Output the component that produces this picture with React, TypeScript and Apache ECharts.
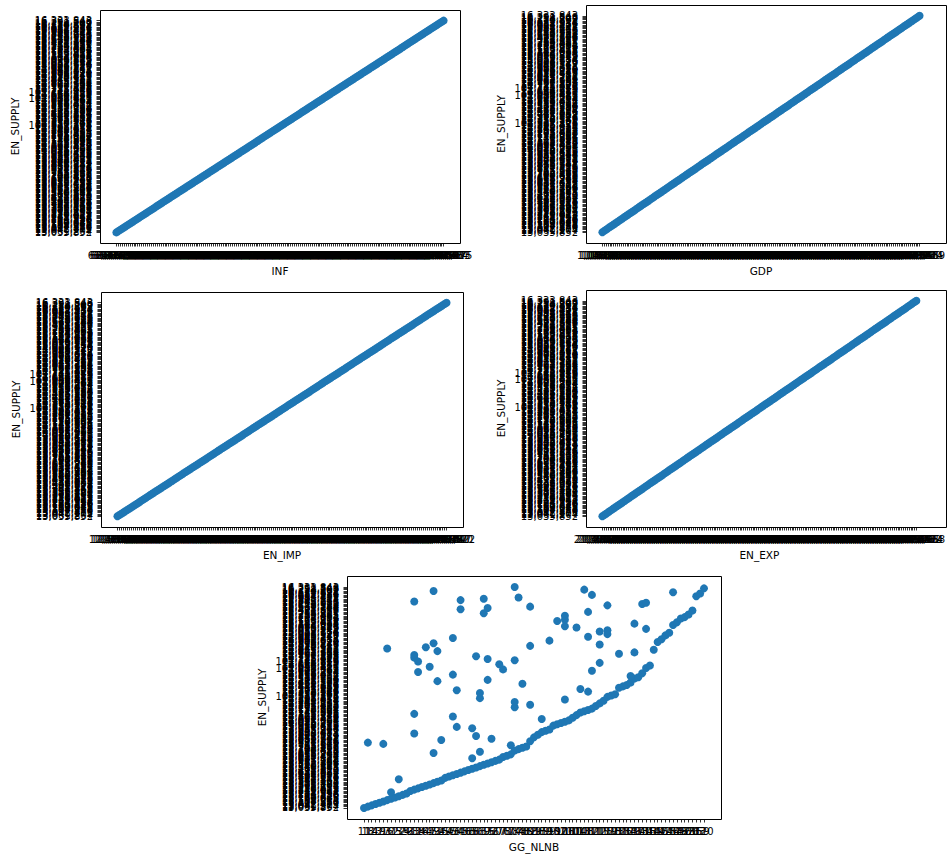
import React, { useEffect, useRef } from "react";
import * as echarts from "echarts";

// EN_SUPPLY (y axis of every panel), rows in file order
const EN_SUPPLY = [
  13035852, 13061204, 13048377, 13092415, 13117560, 13104938, 13139271, 13162085, 13150643, 13188720,
  13201596, 13224318, 13212947, 13245063, 13270419, 13258832, 13291657, 13315204, 13302781, 13336490,
  13359127, 13347865, 13381542, 13405216, 13392678, 13426903, 13449351, 13437084, 13471629, 13495370,
  13482915, 13516847, 13540263, 13528791, 13562408, 13585936, 13573164, 13607529, 13631082, 13618457,
  13652794, 13676215, 13663940, 13697381, 13720856, 13708429, 13742163, 13765897, 13753318, 13787640,
  13811275, 13798506, 13832917, 13856348, 13843782, 13877159, 13900624, 13888071, 13922483, 13945917,
  13933206, 13967548, 13990873, 13978415, 14012760, 14036291, 14023657, 14057904, 14081436, 14068819,
  14102375, 14125748, 14113092, 14147536, 14170981, 14158264, 14192607, 14215930, 14203418, 14237862,
  14261295, 14248637, 14282914, 14306458, 14293871, 104517326, 14327205, 14350762, 14338149, 14372516,
  14395843, 14383207, 14417659, 14441082, 14428316, 14462794, 14486127, 14473580, 14507936, 14531264,
  14518795, 14553012, 14576438, 14563871, 14598204, 14621569, 14608932, 102936485, 14643317, 14666850,
  14654281, 14688613, 101748259, 14711946, 14735472, 14722805, 14757138, 14780593, 14767924, 14802361,
  14825794, 14813126, 14847552, 14870983, 14858417, 14892746, 14916270, 14903619, 14938054, 14961385,
  14948712, 14983147, 15006579, 14993928, 15028356, 15051784, 15039112, 15073549, 15096873, 15084206,
  15118637, 15142065, 15129418, 15163852, 15187279, 15174603, 15209034, 15232461, 15219895, 15254327,
  15387652, 15421976, 15498305, 15532748, 15610184, 15647523, 15723960, 15768391, 15845216, 15892647,
  15938175, 15987402, 16034851, 16082936, 16127514, 16170893, 16214367, 16258709, 16291548, 16333843,
];

const INF = [
  61205385, 62318740, 63497126, 60852391, 64173958, 65029417, 63816254, 66471839, 65290583, 67142906,
  66835172, 68391457, 67504823, 69218364, 68047591, 70326185, 69875043, 71452697, 70618932, 72094358,
  71783246, 73519684, 72861057, 74237915, 73604728, 75182439, 74950176, 76328541, 75716893, 77405362,
  76982514, 78153709, 77640238, 79317856, 78825491, 80264137, 79538672, 81407295, 80916843, 82135078,
  81758329, 83291564, 82640917, 84073285, 83519746, 85162908, 84835271, 86347592, 85704163, 87218435,
  86973680, 88452917, 87806324, 89135768, 88621095, 90374852, 89857416, 91203649, 90718253, 92486137,
  91935708, 93157264, 92604819, 94381526, 93842075, 95216438, 94763902, 96058371, 95590634, 97342185,
  96817453, 98265709, 97739248, 99106832, 98583517, 10427963, 11385206, 10962748, 12574319, 11807452,
  13269845, 12631970, 14318506, 13754289, 15092637, 14586102, 16247853, 15620478, 17385902, 16839245,
  18152760, 17598314, 19476028, 18903657, 20318495, 19762831, 21594306, 20947182, 22368715, 21805439,
  23147962, 22689305, 24573186, 23916420, 25238759, 24750193, 26413875, 25896241, 27352608, 26784957,
  28164239, 27630582, 29507416, 28941763, 30285174, 29718630, 31462905, 30897358, 32175846, 31649207,
  33408152, 32861594, 34297613, 33750846, 35169482, 34628015, 36041597, 35493268, 37326804, 36785139,
  38150467, 37612984, 39284315, 38739052, 40163728, 39627481, 41508296, 40972853, 42315670, 41786394,
  43256819, 42704163, 44187532, 43659278, 45023916, 44581607, 46392748, 45834162, 47218593, 46670325,
  48045871, 47593126, 49312685, 48867409, 50174236, 49628573, 51407958, 50863214, 52293640, 51759085,
  53186472, 52640917, 54321809, 53798265, 55064738, 54519382, 56283917, 55740624, 57129483, 56690275,
];

const GDP = [
  1048236, 1053817, 1061492, 1057305, 1069128, 1074561, 1082937, 1079410, 1091653, 1098275,
  1104819, 1112346, 1108973, 1121560, 1127084, 1135617, 1131249, 1143872, 1150396, 1158721,
  1154083, 1166947, 1173205, 1181538, 1177162, 1189604, 1196358, 1204817, 1200439, 1213265,
  1219842, 1227591, 1223106, 1236478, 1242953, 1250317, 1246780, 1259134, 1265708, 1273492,
  1269015, 1282367, 1288941, 1296573, 1292106, 1305829, 1312460, 1320184, 1315637, 1328913,
  1335276, 1343805, 1339418, 1352671, 1359032, 1366794, 1362350, 1375916, 1382548, 1390173,
  1385729, 1398462, 1405917, 1413586, 1409041, 1422357, 1428913, 1436740, 1432265, 1445908,
  1452374, 1460129, 1455681, 1468943, 1475502, 1483267, 1478814, 1492036, 1498685, 1506421,
  1501973, 1515248, 1521806, 1529570, 1525092, 1538361, 1544927, 1552683, 1548205, 1561479,
  1568035, 1575794, 1571318, 1584586, 1591147, 1598902, 1594427, 1607694, 1614258, 1622013,
  1617538, 1630805, 1637369, 1645124, 1640649, 1653916, 1660478, 1668235, 1663759, 1677027,
  1683589, 1691346, 1686870, 1700138, 1706701, 1714457, 1709981, 1723249, 1729813, 1737568,
  1733092, 1746360, 1752924, 1760679, 1756203, 1769471, 1776035, 1783790, 1779314, 1792582,
  1799146, 1806901, 1802425, 1815693, 1822257, 1830012, 1825536, 1838804, 1845368, 1853123,
  1848647, 1861915, 1868479, 1876234, 1871758, 1885026, 1891590, 1899345, 1894869, 1908137,
  1914701, 1922456, 1917980, 1931248, 1937812, 1945567, 1941091, 1954359, 1960923, 1968678,
  1964202, 1977470, 1984034, 1991789, 1987313, 2000581, 2007145, 2014900, 2010424, 2023689,
];

const EN_IMP = [
  12408317, 12563940, 12297485, 12681052, 12814739, 12736208, 12958461, 13072594, 12995128, 13186305,
  13294871, 13217649, 13408526, 13527193, 13451867, 13639402, 13758215, 13682940, 13874613, 13991258,
  13915087, 14106724, 14223581, 14148396, 14337052, 14459817, 14382465, 14571239, 14693804, 14617358,
  14805926, 14924173, 14846590, 15038267, 15157849, 15079312, 15268495, 15387106, 15310748, 15502367,
  15621983, 15543516, 15735842, 15854297, 15776430, 15967015, 16088651, 16009283, 16196574, 16319108,
  16241735, 16430862, 16552419, 16473907, 16665284, 16783916, 16706542, 16894127, 17015768, 16937290,
  17128453, 17247816, 17169381, 17358904, 17479632, 17401257, 17590718, 17712045, 17634879, 17823416,
  17941583, 17865209, 18054637, 18176392, 18097815, 18286148, 18408573, 18329764, 18517906, 18639271,
  18562148, 18750483, 18871926, 18793510, 18982637, 19104875, 19026319, 19215748, 19336092, 19257461,
  19448825, 19567103, 19489654, 19679218, 19800547, 19721983, 19910362, 10243875, 10387514, 10162098,
  10518726, 10649357, 10573841, 10795260, 10916483, 10837125, 11062948, 11184607, 11106273, 11327815,
  11459032, 11381764, 11593248, 11725906, 11648371, 11862450, 11987013, 11909587, 12128736, 12250419,
  12172953, 12394168, 12516702, 12438245, 12659381, 12781624, 12704159, 12925896, 13048237, 12970581,
  13196405, 13318762, 13241097, 13465728, 13587314, 13509846, 13730167, 13852693, 13774025, 13998541,
  14120876, 14043209, 14267531, 14389975, 14312468, 14534102, 14656837, 14578390, 14801624, 14923159,
  15045783, 14967215, 15190642, 15313078, 15235519, 15459246, 15581307, 15503872, 15726491, 15848036,
  15970463, 15892718, 16115289, 16237645, 16159104, 16381957, 16504382, 16426817, 16649570, 16772012,
];

const EN_EXP = [
  21306458, 21472913, 21395067, 21618342, 21754806, 21683251, 21897624, 22031578, 21962309, 22175843,
  22309716, 22238054, 22451287, 22586932, 22513470, 22729165, 22864508, 22792341, 23006879, 23142615,
  23071236, 23284597, 23419853, 23348102, 23562478, 23697314, 23625780, 23839156, 23974820, 23903467,
  24116935, 24252078, 24180643, 24394217, 24529680, 24458136, 24671502, 24806947, 24735281, 24948653,
  25083129, 25012786, 25226354, 25361807, 25290148, 25503726, 25638291, 25567015, 25781468, 25916823,
  25845372, 26058947, 26193510, 26122865, 26336219, 26471683, 26400158, 26613524, 26748970, 26677341,
  26891706, 27026152, 26954819, 27168283, 27303647, 27232196, 27445568, 27580931, 27509304, 27722875,
  27858241, 27786619, 28000183, 28135547, 28063912, 28277486, 28412850, 28341225, 28554791, 28690164,
  28618529, 28832093, 28967458, 28895826, 29109390, 29244763, 29173128, 29386695, 29522057, 29450421,
  29663984, 29799352, 29727716, 29941283, 20076548, 20194612, 20128375, 20317946, 20452081, 20386714,
  20573259, 20708623, 20641937, 20829404, 20964170, 20897536, 21085012, 21219387, 21152748, 21340176,
  21475649, 21408023, 21596385, 21731862, 21664215, 21852973, 21987341, 21920706, 22108258, 22243617,
  22176094, 22364528, 22499805, 22432169, 22620743, 22755216, 22687589, 22876134, 23011492, 22943867,
  23132317, 23267685, 23200049, 23388506, 23523974, 23456338, 23644895, 23780261, 23712627, 23901083,
  24036549, 23968912, 24157475, 24292843, 24225207, 24413768, 24549136, 24481500, 24670059, 24805425,
  24737791, 24926349, 25061714, 24994080, 25182638, 25318005, 25250369, 25438927, 25574296, 25506658,
  25695217, 25830584, 25762946, 25951506, 26086873, 26019235, 26207795, 26343162, 26275524, 26464088,
];

// GG_NLNB has repeated values; categories follow order of first appearance
const GG_NLNB = [
  11, 18, 14, 23, 19, 27, 16, 31, 25, 22,
  35, 29, 31, 41, 33, 38, 26, 44, 47, 39,
  52, 36, 22, 49, 57, 43, 54, 61, 46, 58,
  65, 50, 63, 69, 55, 72, 60, 67, 65, 76,
  71, 80, 39, 63, 74, 84, 78, 88, 80, 27,
  18, 82, 36, 72, 91, 50, 86, 33, 95, 89,
  99, 65, 54, 93, 102, 97, 106, 100, 95, 110,
  43, 104, 33, 113, 108, 117, 111, 74, 121, 82,
  115, 74, 125, 106, 63, 119, 128, 123, 63, 117,
  54, 113, 131, 126, 134, 78, 129, 52, 55, 137,
  133, 129, 43, 140, 38, 111, 76, 136, 47, 144,
  67, 115, 38, 74, 55, 33, 50, 33, 131, 137,
  52, 139, 16, 44, 82, 115, 39, 147, 99, 142,
  43, 117, 151, 119, 146, 115, 119, 136, 104, 106,
  154, 137, 149, 102, 106, 157, 152, 106, 160, 69,
  117, 156, 61, 55, 82, 119, 140, 136, 33, 61,
  69, 84, 163, 111, 159, 154, 39, 108, 120, 74,
];

const withCommas = (n: number) => String(n).replace(/\B(?=(\d{3})+(?!\d))/g, ",");
const plain = (n: number) => String(n);
const uniqueInOrder = (arr: string[]) => Array.from(new Set(arr));

const FONT = "DejaVu Sans";
const BLUE = "#1f77b4";

// frames: [left, top, right, bottom]
const PANELS = [
  { name: "INF", values: INF, fmt: withCommas, frame: [100, 10, 460, 243] },
  { name: "GDP", values: GDP, fmt: withCommas, frame: [586, 5, 946, 243] },
  { name: "EN_IMP", values: EN_IMP, fmt: withCommas, frame: [101, 292, 463, 527] },
  { name: "EN_EXP", values: EN_EXP, fmt: withCommas, frame: [586, 290, 946, 527] },
  { name: "GG_NLNB", values: GG_NLNB, fmt: plain, frame: [347, 576, 721, 819] },
];

export default function App() {
  const ref = useRef<HTMLDivElement>(null);
  useEffect(() => {
    if (!ref.current) return;
    const chart = echarts.init(ref.current, null, { renderer: "svg" });
    const ySupply = EN_SUPPLY.map(withCommas);
    const yCats = uniqueInOrder(ySupply);
    const grids: any[] = [];
    const xAxes: any[] = [];
    const yAxes: any[] = [];
    const series: any[] = [];
    const graphics: any[] = [];
    const tick = { show: true, interval: 0, length: 3.5, lineStyle: { color: "#000", width: 0.8 } };
    const labelStyle = { interval: 0, fontSize: 10, color: "#000", fontFamily: FONT, hideOverlap: false };
    PANELS.forEach((p, i) => {
      const [l, t, r, b] = p.frame;
      const w = r - l;
      const h = b - t;
      const mx = w / 22;
      const my = h / 22;
      grids.push({ left: l + mx, top: t + my, width: w - 2 * mx, height: h - 2 * my });
      const xLabels = p.values.map(p.fmt);
      xAxes.push({
        gridIndex: i,
        type: "category",
        data: uniqueInOrder(xLabels),
        boundaryGap: false,
        offset: my,
        axisLine: { show: false },
        axisTick: tick,
        splitLine: { show: false },
        axisLabel: { ...labelStyle, margin: 7 },
        name: p.name,
        nameLocation: "middle",
        nameGap: 22,
        nameTextStyle: { fontSize: 10.5, color: "#000", fontFamily: FONT, verticalAlign: "top" },
      });
      yAxes.push({
        gridIndex: i,
        type: "category",
        data: yCats,
        boundaryGap: false,
        offset: mx,
        axisLine: { show: false },
        axisTick: tick,
        splitLine: { show: false },
        axisLabel: { ...labelStyle, margin: 8 },
        name: "EN_SUPPLY",
        nameLocation: "middle",
        nameGap: 80,
        nameTextStyle: { fontSize: 10.5, color: "#000", fontFamily: FONT },
      });
      series.push({
        type: "scatter",
        xAxisIndex: i,
        yAxisIndex: i,
        symbolSize: 8,
        itemStyle: { color: BLUE, opacity: 1 },
        data: xLabels.map((x, k) => [x, ySupply[k]]),
      });
      graphics.push({
        type: "rect",
        silent: true,
        z: 100,
        shape: { x: l + 0.5, y: t + 0.5, width: w, height: h },
        style: { fill: "none", stroke: "#000", lineWidth: 1 },
      });
    });
    chart.setOption({
      animation: false,
      backgroundColor: "#fff",
      grid: grids,
      xAxis: xAxes,
      yAxis: yAxes,
      series,
      graphic: graphics,
    });
    return () => chart.dispose();
  }, []);
  return (
    <div
      ref={ref}
      style={{ position: "absolute", left: 0, top: 0, width: 948, height: 856, background: "#fff" }}
    />
  );
}
